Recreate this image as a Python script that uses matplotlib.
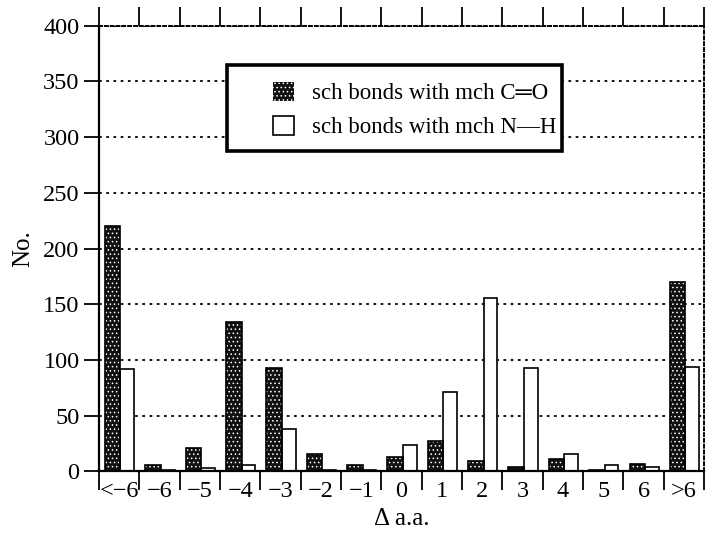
import matplotlib
matplotlib.use("Agg")
import matplotlib.pyplot as plt
import numpy as np
from matplotlib.patches import Patch, Rectangle

categories = ["<−6", "−6", "−5", "−4", "−3", "−2", "−1", "0", "1", "2", "3", "4", "5", "6", ">6"]
co_bonds = [220, 6, 21, 134, 93, 16, 6, 13, 27, 9, 4, 11, 1, 7, 170]
nh_bonds = [92, 1, 3, 6, 38, 1, 1, 24, 71, 156, 93, 16, 6, 4, 94]
y_ticks = [0, 50, 100, 150, 200, 250, 300, 350, 400]

serif = ["Liberation Serif", "DejaVu Serif"]
plt.rcParams['font.family'] = serif
plt.rcParams['hatch.linewidth'] = 0.6

fig = plt.figure(figsize=(7.07, 5.37), dpi=100)
ax = fig.add_axes([0.140, 0.122, 0.856, 0.830])

x = np.arange(len(categories))
# gridlines
for v in y_ticks[1:]:
    ax.axhline(v, color="black", lw=1.3, linestyle=(0, (1.5, 2.5)), zorder=0)

# dark bars (dotted pattern)
ax.bar(x - 0.35, co_bonds, width=0.383, align="edge", color="#111111",
       edgecolor="white", hatch="....", linewidth=0, zorder=2)
ax.bar(x - 0.35, co_bonds, width=0.383, align="edge", fill=False,
       edgecolor="black", linewidth=1.2, zorder=3)
# white bars
ax.bar(x + 0.033, nh_bonds, width=0.34, align="edge", color="white",
       edgecolor="black", linewidth=1.2, zorder=2)

ax.set_xlim(-0.5, len(categories) - 0.5)
ax.set_ylim(0, 400)

ax.set_xticks(np.arange(-0.5, len(categories)), minor=False)
ax.set_xticklabels([])
ax.set_xticks(x, minor=True)
ax.set_xticklabels(categories, minor=True, fontsize=17.5)
ax.tick_params(axis="x", which="major", direction="out", length=14, width=1.3,
               top=True, bottom=True)
ax.tick_params(axis="x", which="minor", length=0, pad=7)

ax.set_yticks(y_ticks)
ax.set_yticklabels([str(v) for v in y_ticks], fontsize=17.5)
ax.tick_params(axis="y", which="major", direction="out", length=11, width=1.3, pad=3)

for s in ["left", "bottom"]:
    ax.spines[s].set_linewidth(1.6)
for s in ["top", "right"]:
    ax.spines[s].set_linewidth(1.4)
    ax.spines[s].set_linestyle((0, (1.5, 1.5)))

ax.set_ylabel("No.", fontsize=18, labelpad=6)
ax.set_xlabel("Δ a.a.", fontsize=18, labelpad=4)

# legend frame
frame = Rectangle((0.2116, 0.719), 0.765 - 0.2116, 0.912 - 0.719,
                  transform=ax.transAxes, facecolor="white", edgecolor="black",
                  linewidth=2.6, zorder=5)
ax.add_patch(frame)

handles = [
    Patch(facecolor="#111111", edgecolor="white", hatch="....", linewidth=0),
    Patch(facecolor="white", edgecolor="black", linewidth=1.2),
]
leg = ax.legend(handles, ["sch bonds with mch C═O", "sch bonds with mch N—H"],
                loc="upper left", bbox_to_anchor=(0.2876, 0.874), fontsize=16.5,
                frameon=False, handlelength=0.9, handleheight=0.9, borderpad=0,
                labelspacing=0.5, handletextpad=0.8, borderaxespad=0)
leg.set_zorder(6)

fig.savefig("out.png", dpi=100)
